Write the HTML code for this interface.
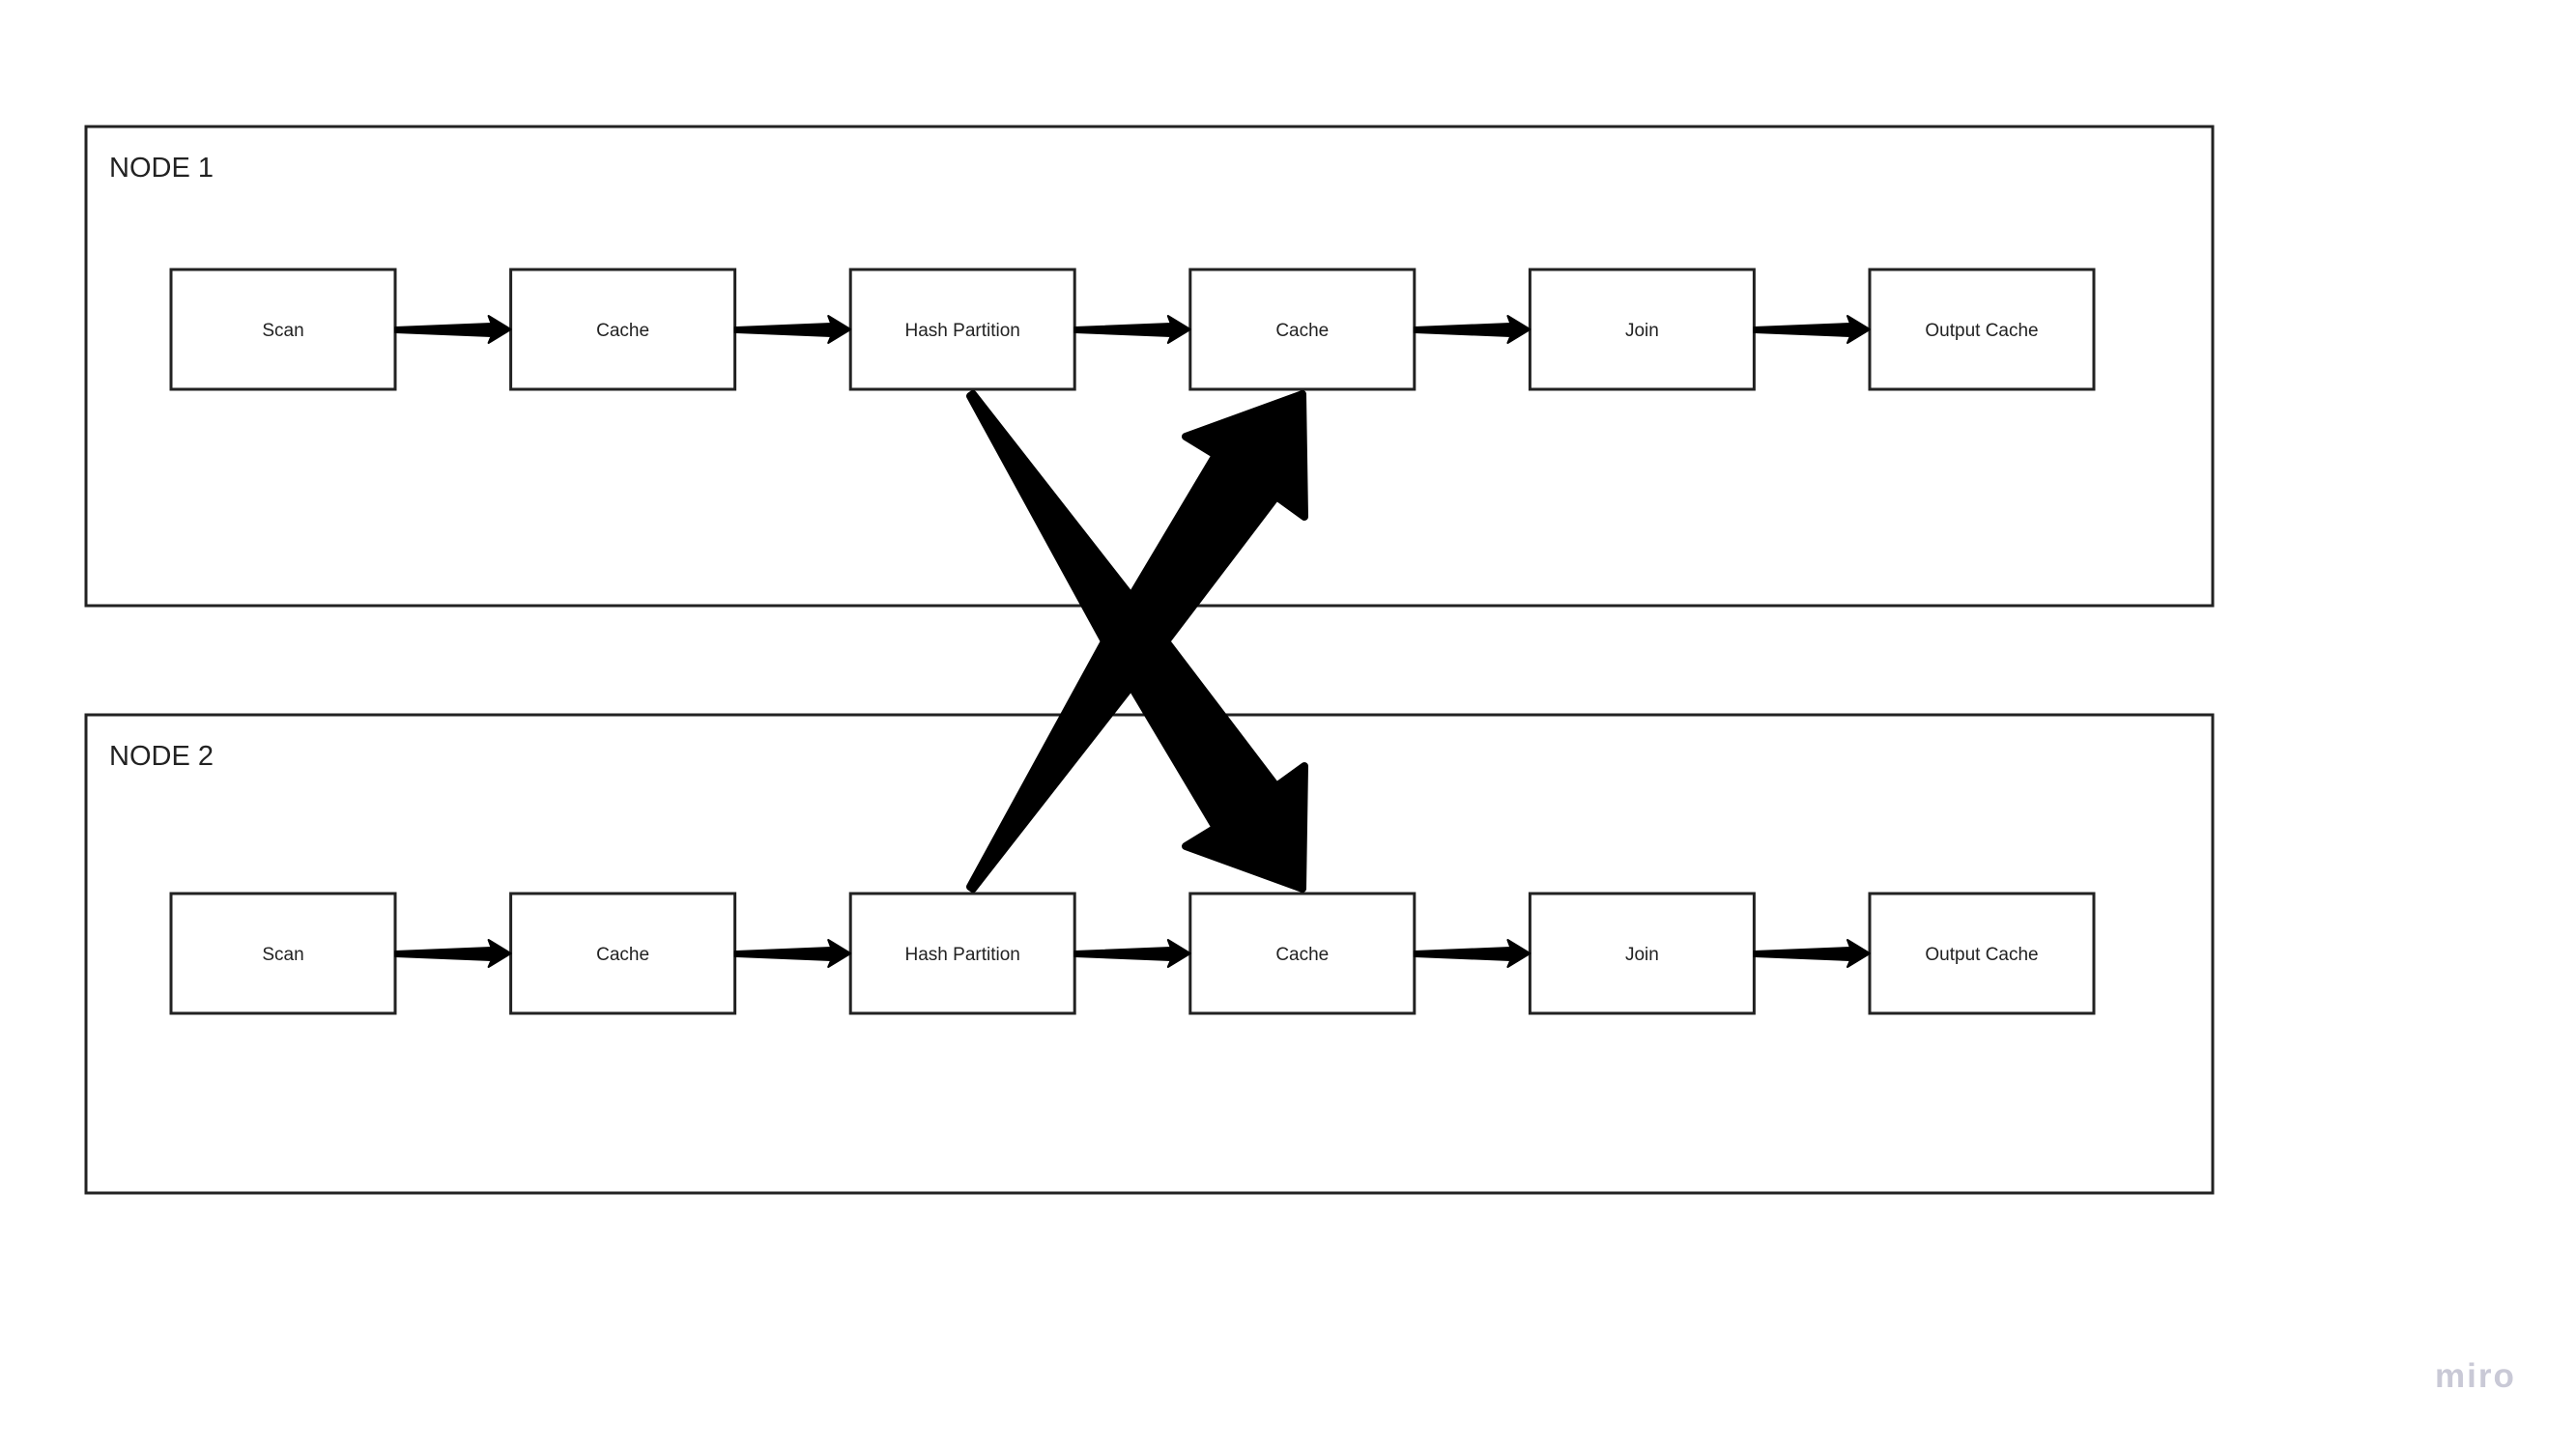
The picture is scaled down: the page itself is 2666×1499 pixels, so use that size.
<!DOCTYPE html>
<html><head><meta charset="utf-8"><style>
html,body{margin:0;padding:0;background:#fff;}
svg{display:block;}
text{font-family:"Liberation Sans",sans-serif;}
</style></head><body>
<svg id="s" width="2666" height="1499" viewBox="0 0 2666 1499" xmlns="http://www.w3.org/2000/svg">
<rect x="0" y="0" width="2666" height="1499" fill="#fff"/>
<rect x="89" y="131" width="2201" height="496" fill="none" stroke="#222" stroke-width="3"/>
<rect x="89" y="740" width="2201" height="495" fill="none" stroke="#222" stroke-width="3"/>
<text x="113" y="183" font-size="29" fill="#222">NODE 1</text>
<text x="113" y="792" font-size="29" fill="#222">NODE 2</text>
<g id="boxes"></g>
<g id="arrows"></g>
<g>
<polygon fill="#000" stroke="#000" stroke-width="8" stroke-linejoin="round"
 points="1004,410 1143,664 1258,857 1227,876 1348,920 1350,793 1321,814 1207,664 1007,408"/>
<polygon fill="#000" stroke="#000" stroke-width="8" stroke-linejoin="round"
 points="1004,918 1143,664 1258,471 1227,452 1348,408 1350,535 1321,514 1207,664 1007,920"/>
</g>
<text x="2520" y="1436" font-size="35" font-weight="bold" fill="#c9c9d6" letter-spacing="2">miro</text>
</svg>
<script>
const labels=["Scan","Cache","Hash Partition","Cache","Join","Output Cache"];
const rowsY=[279,925];
const NS="http://www.w3.org/2000/svg";
const bg=document.getElementById('boxes'),ag=document.getElementById('arrows');
const x0=177,step=351.6,w=232,h=124;
rowsY.forEach((y,r)=>{
 labels.forEach((l,i)=>{
  const x=x0+i*step;
  const rc=document.createElementNS(NS,'rect');
  rc.setAttribute('x',x);rc.setAttribute('y',y);rc.setAttribute('width',w);rc.setAttribute('height',h);
  rc.setAttribute('fill','#fff');rc.setAttribute('stroke','#222');rc.setAttribute('stroke-width','3');
  
  
  bg.appendChild(rc);
  const t=document.createElementNS(NS,'text');
  t.setAttribute('x',x+w/2);t.setAttribute('y',y+h/2+7);t.setAttribute('text-anchor','middle');
  t.setAttribute('font-size','19');t.setAttribute('fill','#222');t.textContent=l;
  
  
  bg.appendChild(t);
  if(i<labels.length-1){
   const x1=x+w,x2=x+step,cy=y+h/2,hb=x2-20;
   const p=document.createElementNS(NS,'polygon');
   p.setAttribute('points',`${x1},${cy-2} ${hb},${cy-6} ${hb-3},${cy-14} ${x2},${cy} ${hb-3},${cy+14} ${hb},${cy+7} ${x1},${cy+3}`);
   p.setAttribute('fill','#000');p.setAttribute('stroke','#000');p.setAttribute('stroke-width','2');p.setAttribute('stroke-linejoin','round');
   
   
   ag.appendChild(p);
  }
 });
});
</script>
</body></html>
